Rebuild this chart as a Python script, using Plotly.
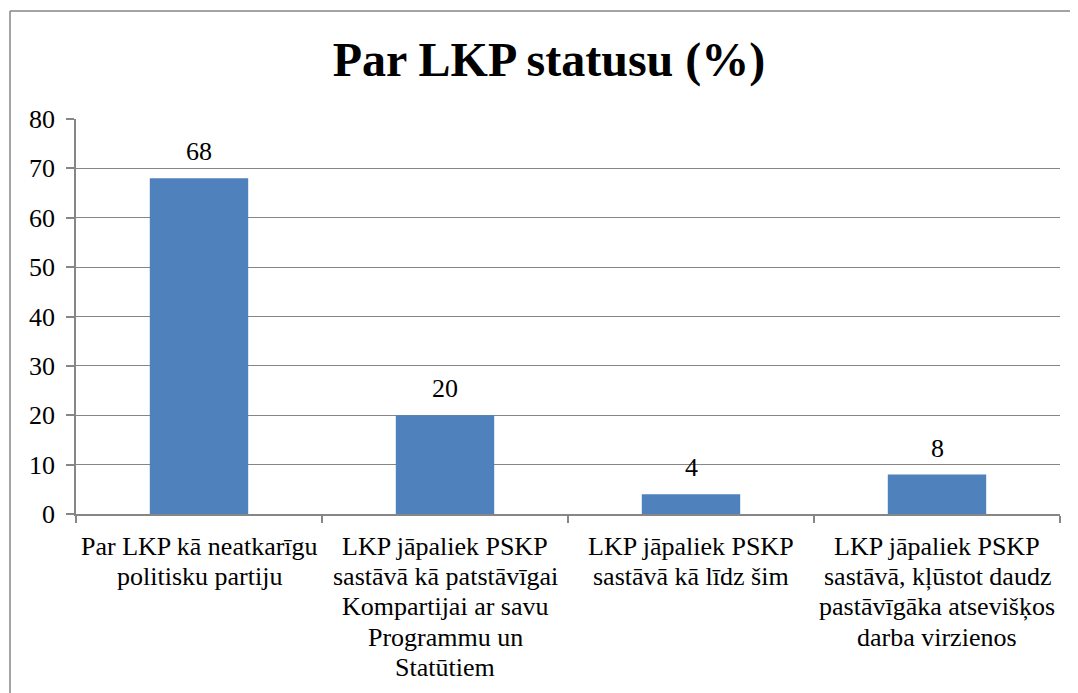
import plotly.graph_objects as go

categories = [
    "Par LKP kā neatkarīgu<br>politisku partiju",
    "LKP jāpaliek PSKP<br>sastāvā kā patstāvīgai<br>Kompartijai ar savu<br>Programmu un<br>Statūtiem",
    "LKP jāpaliek PSKP<br>sastāvā kā līdz šim",
    "LKP jāpaliek PSKP<br>sastāvā, kļūstot daudz<br>pastāvīgāka atsevišķos<br>darba virzienos",
]
values = [68, 20, 4, 8]
title_text = "Par LKP statusu (%)"
y_ticks = [0, 10, 20, 30, 40, 50, 60, 70, 80]

FONT = "Liberation Serif"
GRID = "#868686"
FS = 26
LINE_H = 30.2

# page body has an 8px margin; work in reference pixel coords then shift
OFF = 8
W, H = 1078 - OFF, 693 - OFF
L = 76 - OFF
T = 119 - OFF
R = W - (1060 - OFF)
B = H - (514 - OFF)
pw, ph = W - L - R, H - T - B
def px(x): return (x - OFF - L) / pw
def py(y): return (H - B - (y - OFF)) / ph

fig = go.Figure()
fig.add_trace(go.Bar(
    x=categories, y=values,
    marker=dict(color="#4F81BD", line=dict(width=0)),
    hoverinfo="skip",
))

# data labels
for c, v in zip(categories, values):
    fig.add_annotation(x=c, y=v, text=str(v), showarrow=False,
                       yanchor="bottom", yshift=10,
                       font=dict(family=FONT, size=FS, color="black"))

# category labels, one annotation per line for Word-like line spacing
for c in categories:
    for i, line in enumerate(c.split("<br>")):
        fig.add_annotation(x=c, y=0, text=line, showarrow=False,
                           yanchor="top", yshift=-16 - i * LINE_H,
                           font=dict(family=FONT, size=FS, color="black"))

fig.add_shape(type="line", xref="paper", yref="paper",
              x0=px(10), x1=px(10), y0=py(11), y1=py(720),
              line=dict(color=GRID, width=1.5))
fig.add_shape(type="line", xref="paper", yref="paper",
              x0=px(10), x1=px(1100), y0=py(11), y1=py(11),
              line=dict(color=GRID, width=1.5))

fig.update_layout(
    width=W, height=H,
    margin=dict(l=L, r=R, t=T, b=B),
    paper_bgcolor="white", plot_bgcolor="white",
    bargap=0.6,
    showlegend=False,
    title=dict(text="<b>" + title_text + "</b>", x=(549 - OFF) / W, xanchor="center",
               y=1 - (59 - OFF) / H, yanchor="middle",
               font=dict(family=FONT, size=48, color="black")),
    font=dict(family=FONT, size=FS, color="black"),
    xaxis=dict(
        showgrid=False, showline=True, linecolor=GRID, linewidth=1.5,
        ticks="outside", tickson="boundaries", ticklen=7, tickcolor=GRID,
        tickwidth=1.5, showticklabels=False,
    ),
    yaxis=dict(
        range=[0, 80], tickvals=y_ticks, showgrid=True, gridcolor=GRID,
        gridwidth=1.2, showline=True, linecolor=GRID, linewidth=1.5,
        ticks="outside", ticklen=8, tickcolor=GRID, tickwidth=1.5,
        ticklabelstandoff=6, zeroline=False,
        tickfont=dict(family=FONT, size=FS, color="black"),
    ),
)

fig.write_html("out.html")
